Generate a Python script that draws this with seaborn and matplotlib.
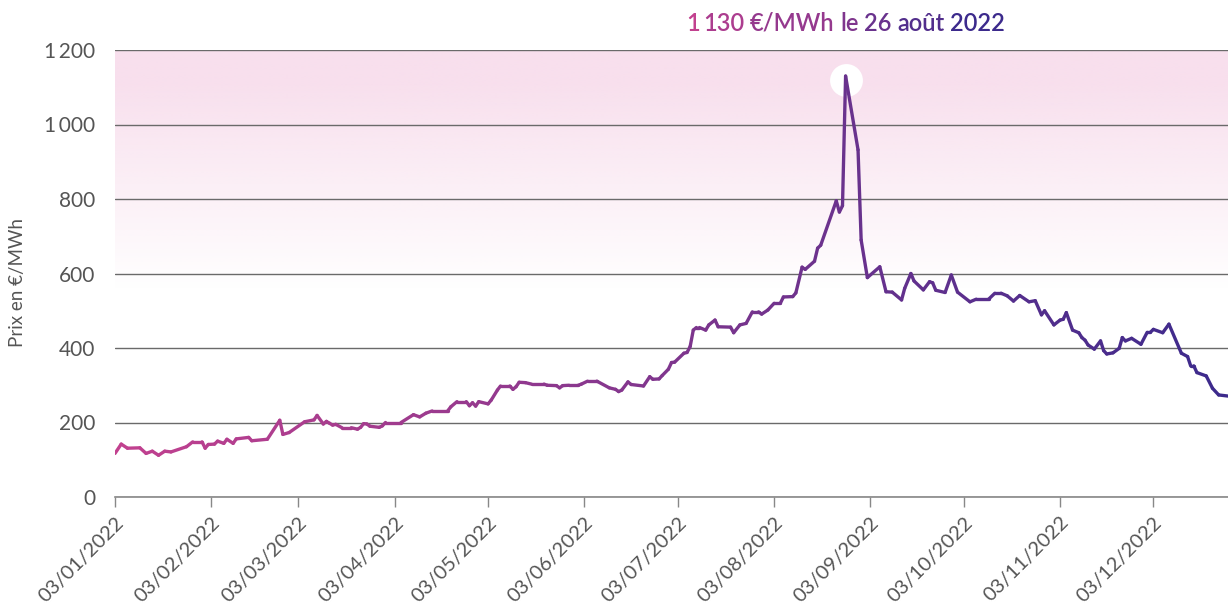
import numpy as np
import pandas as pd
import matplotlib
matplotlib.use("Agg")
import matplotlib.pyplot as plt
import matplotlib.dates as mdates
from matplotlib.collections import LineCollection
from matplotlib.colors import LinearSegmentedColormap
import seaborn as sns

# ---------------- data ----------------
dates = [
    "2022-01-03", "2022-01-05", "2022-01-07", "2022-01-11", "2022-01-13", "2022-01-15", "2022-01-17",
    "2022-01-19", "2022-01-21", "2022-01-26", "2022-01-28", "2022-01-31",
    "2022-02-01", "2022-02-02", "2022-02-04", "2022-02-05", "2022-02-07", "2022-02-08", "2022-02-10",
    "2022-02-11", "2022-02-15", "2022-02-16", "2022-02-21", "2022-02-25", "2022-02-26", "2022-02-28",
    "2022-03-05", "2022-03-08", "2022-03-09", "2022-03-11", "2022-03-12", "2022-03-13", "2022-03-14",
    "2022-03-15", "2022-03-17", "2022-03-20", "2022-03-22", "2022-03-23", "2022-03-24", "2022-03-25",
    "2022-03-26", "2022-03-29", "2022-03-30", "2022-03-31",
    "2022-04-05", "2022-04-09", "2022-04-11", "2022-04-13", "2022-04-15", "2022-04-20", "2022-04-21",
    "2022-04-23", "2022-04-26", "2022-04-27", "2022-04-28", "2022-04-29", "2022-04-30",
    "2022-05-03", "2022-05-04", "2022-05-06", "2022-05-07", "2022-05-10", "2022-05-11", "2022-05-12",
    "2022-05-13", "2022-05-15", "2022-05-17", "2022-05-21", "2022-05-22", "2022-05-25", "2022-05-26",
    "2022-05-27", "2022-05-29",
    "2022-06-01", "2022-06-02", "2022-06-04", "2022-06-07", "2022-06-11", "2022-06-13", "2022-06-14",
    "2022-06-15", "2022-06-17", "2022-06-18", "2022-06-22", "2022-06-24", "2022-06-25", "2022-06-27",
    "2022-06-28", "2022-06-30",
    "2022-07-01", "2022-07-02", "2022-07-05", "2022-07-06", "2022-07-07", "2022-07-08", "2022-07-09",
    "2022-07-10", "2022-07-12", "2022-07-13", "2022-07-15", "2022-07-16", "2022-07-20", "2022-07-21",
    "2022-07-23", "2022-07-25", "2022-07-27", "2022-07-29", "2022-07-30",
    "2022-08-01", "2022-08-03", "2022-08-05", "2022-08-06", "2022-08-09", "2022-08-10", "2022-08-12",
    "2022-08-13", "2022-08-16", "2022-08-17", "2022-08-18", "2022-08-23", "2022-08-24", "2022-08-25",
    "2022-08-26", "2022-08-30", "2022-08-31",
    "2022-09-02", "2022-09-06", "2022-09-08", "2022-09-10", "2022-09-13", "2022-09-14", "2022-09-16",
    "2022-09-17", "2022-09-20", "2022-09-22", "2022-09-23", "2022-09-24", "2022-09-27", "2022-09-29",
    "2022-10-01", "2022-10-05", "2022-10-07", "2022-10-11", "2022-10-13", "2022-10-15", "2022-10-17",
    "2022-10-19", "2022-10-21", "2022-10-24", "2022-10-26", "2022-10-28", "2022-10-29",
    "2022-11-01", "2022-11-03", "2022-11-04", "2022-11-05", "2022-11-07", "2022-11-09", "2022-11-10",
    "2022-11-11", "2022-11-12", "2022-11-14", "2022-11-16", "2022-11-17", "2022-11-18", "2022-11-20",
    "2022-11-22", "2022-11-23", "2022-11-24", "2022-11-26", "2022-11-29",
    "2022-12-01", "2022-12-02", "2022-12-03", "2022-12-06", "2022-12-08", "2022-12-12", "2022-12-14",
    "2022-12-15", "2022-12-16", "2022-12-17", "2022-12-20", "2022-12-22", "2022-12-24", "2022-12-27",
]
prices = [
    117, 142, 131, 132, 117, 123, 112,
    123, 121, 135, 148, 148,
    131, 141, 142, 150, 144, 155, 144,
    156, 160, 151, 155, 206, 168, 173,
    202, 207, 219, 196, 203, 198, 193,
    195, 186, 186, 182, 187, 197, 196,
    190, 187, 191, 200,
    200, 221, 215, 225, 231, 231, 242,
    256, 256, 245, 253, 244, 256,
    250, 260, 287, 298, 298, 289, 296,
    308, 307, 303, 303, 300, 299, 293,
    299, 300,
    300, 303, 311, 311, 293, 289, 283,
    287, 309, 302, 298, 323, 316, 317,
    326, 343,
    361, 362, 386, 388, 404, 448, 455,
    455, 448, 462, 475, 457, 456, 441,
    462, 466, 497, 497, 491,
    502, 520, 520, 537, 538, 548, 617,
    611, 633, 668, 676, 795, 765, 782,
    1130, 932, 690,
    589, 618, 551, 550, 529, 560, 600,
    580, 556, 578, 575, 555, 549, 596,
    550, 524, 531, 531, 547, 547, 540,
    526, 541, 524, 527, 489, 500,
    462, 475, 477, 495, 448, 441, 428,
    421, 408, 397, 419, 393, 384, 387,
    399, 428, 419, 426, 410,
    442, 442, 450, 441, 464, 386, 377,
    352, 352, 334, 325, 292, 274, 271,
]
tick_dates = ["2022-01-03", "2022-02-03", "2022-03-03", "2022-04-03", "2022-05-03", "2022-06-03",
              "2022-07-03", "2022-08-03", "2022-09-03", "2022-10-03", "2022-11-03", "2022-12-03"]
tick_labels = ["03/01/2022", "03/02/2022", "03/03/2022", "03/04/2022", "03/05/2022", "03/06/2022",
               "03/07/2022", "03/08/2022", "03/09/2022", "03/10/2022", "03/11/2022", "03/12/2022"]
y_ticks = [0, 200, 400, 600, 800, 1000, 1200]
y_tick_labels = ["0", "200", "400", "600", "800", "1\u2009000", "1\u2009200"]
x_start, x_end = "2022-01-03", "2022-12-27"
peak_date, peak_value = "2022-08-26", 1130
annotation_words = ["1", "130", "€/MWh", "le", "26", "août", "2022"]
annotation_gaps = [0, 2.5, 4, 4, 4, 4, 4]
y_label = "Prix en €/MWh"

# ---------------- style ----------------
sns.set_theme(style="white")
plt.rcParams["font.family"] = ["Lato", "DejaVu Sans"]
PINK = "#c2418f"
PURPLE = "#3c2a8c"
TEXT = "#555555"
GRID = "#6a6a6a"
cmap = LinearSegmentedColormap.from_list("pp", [PINK, PURPLE])

df = pd.DataFrame({"date": pd.to_datetime(dates), "price": prices})

fig = plt.figure(figsize=(12.28, 6.07), dpi=100)
ax = fig.add_axes([115 / 1228, 110 / 607, 1113 / 1228, 447 / 607])

sns.lineplot(data=df, x="date", y="price", ax=ax, color=PINK, linewidth=2.4)
base = ax.lines[0]
base.set_visible(False)

xnum = mdates.date2num(df["date"])
ynum = np.asarray(prices, dtype=float)
pts = np.column_stack([xnum, ynum]).reshape(-1, 1, 2)
segs = np.concatenate([pts[:-1], pts[1:]], axis=1)
x0n = mdates.date2num(pd.Timestamp(x_start))
x1n = mdates.date2num(pd.Timestamp(x_end))
lc = LineCollection(segs, cmap=cmap, linewidths=2.4, capstyle="round", joinstyle="round", zorder=4)
lc.set_array((xnum[:-1] + xnum[1:]) / 2)
lc.set_clim(x0n, x1n)
ax.add_collection(lc)

# background gradient (pink top fading to white)
yy = np.linspace(1200, 0, 400)
alpha = np.clip((yy - 560) / (1120 - 560), 0, 1)
img = np.zeros((len(yy), 2, 4))
img[..., 0] = 248 / 255
img[..., 1] = 223 / 255
img[..., 2] = 237 / 255
img[..., 3] = alpha[:, None]
ax.imshow(img, extent=[x0n, x1n, 0, 1200], aspect="auto", zorder=0, interpolation="bilinear")

# peak marker
pk = pd.to_datetime([peak_date])
ax.scatter(pk, [peak_value - 10], s=560, color="white", zorder=3, linewidths=0)

ax.set_xlim(x0n, x1n)
ax.set_ylim(0, 1200)
ax.set_axisbelow(True)
ax.yaxis.grid(True, color=GRID, linewidth=1.0, zorder=0.5)
ax.xaxis.grid(False)
for s in ["left", "right", "top"]:
    ax.spines[s].set_visible(False)
ax.spines["bottom"].set_color("#888888")
ax.spines["bottom"].set_linewidth(1.2)

ax.set_yticks(y_ticks)
ax.set_yticklabels(y_tick_labels)
ax.set_xticks(pd.to_datetime(tick_dates))
ax.set_xticklabels(tick_labels, rotation=45, ha="right", rotation_mode="anchor")
ax.tick_params(axis="y", length=0, pad=14, labelsize=15, labelcolor=TEXT)
ax.tick_params(axis="x", length=7, width=1, color="#888888", pad=5, labelsize=14.5,
               labelcolor=TEXT, bottom=True)
ax.set_xlabel("")
ax.set_ylabel(y_label, fontsize=13.5, color=TEXT)
ax.yaxis.set_label_coords(-0.08, 0.48)

# gradient annotation above the peak
pk_num = mdates.date2num(pd.Timestamp(peak_date))
n = len(annotation_words)
cols = [cmap(i / (n - 1)) for i in range(n)]
texts = []
FS = 17
first = ax.annotate(annotation_words[0], xy=(pk_num, 1200), xycoords="data",
                    xytext=(0, 11), textcoords="offset points", ha="left", va="bottom",
                    fontsize=FS, fontweight="semibold", color=cols[0], annotation_clip=False)
texts.append(first)
prev = first
for w, g, c in zip(annotation_words[1:], annotation_gaps[1:], cols[1:]):
    t = ax.annotate(w, xy=(1, 0), xycoords=prev, xytext=(g, 0), textcoords="offset points",
                    ha="left", va="bottom", fontsize=FS, fontweight="semibold", color=c)
    texts.append(t)
    prev = t

fig.canvas.draw()
r = fig.canvas.get_renderer()
b0 = texts[0].get_window_extent(r)
b1 = texts[-1].get_window_extent(r)
total_pts = (b1.x1 - b0.x0) * 72 / fig.dpi
first.xyann = (-total_pts / 2, 11)

fig.savefig("out.png", dpi=100)
